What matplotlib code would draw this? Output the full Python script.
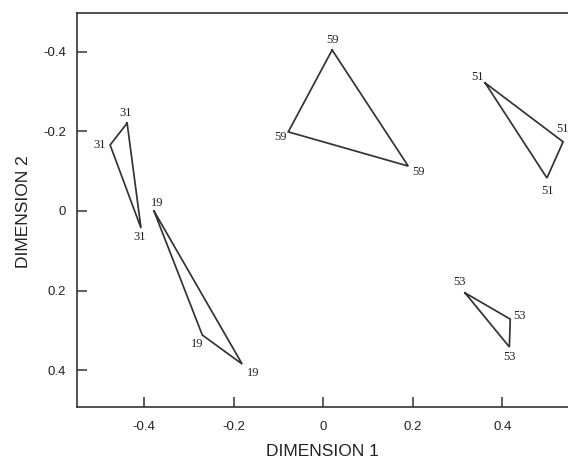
import matplotlib
matplotlib.use("Agg")
import matplotlib.pyplot as plt

# Data: triangle vertices (dimension 1, dimension 2) for each group
groups = ["31", "19", "59", "51", "53"]
dim1 = {
    "31": [-0.438, -0.476, -0.407],
    "19": [-0.378, -0.270, -0.181],
    "59": [0.020, -0.078, 0.190],
    "51": [0.362, 0.536, 0.500],
    "53": [0.317, 0.418, 0.416],
}
dim2 = {
    "31": [-0.221, -0.166, 0.043],
    "19": [0.000, 0.312, 0.385],
    "59": [-0.405, -0.199, -0.113],
    "51": [-0.322, -0.174, -0.083],
    "53": [0.206, 0.272, 0.342],
}
x_ticks = [-0.4, -0.2, 0, 0.2, 0.4]
x_ticklabels = ["-0.4", "-0.2", "0", "0.2", "0.4"]
y_ticks = [-0.4, -0.2, 0, 0.2, 0.4]
y_ticklabels = ["-0.4", "-0.2", "0", "0.2", "0.4"]
x_title = "DIMENSION 1"
y_title = "DIMENSION 2"

# label offsets in pixels (styling)
label_offsets = {
    "31": [(-2, 10), (-10, 0), (-1, -9)],
    "19": [(3, 8), (-5, -9), (11, -9)],
    "59": [(0, 10), (-8, -5), (10, -6)],
    "51": [(-8, 6), (-1, 13), (1, -13)],
    "53": [(-6, 11), (9, 3), (0, -10)],
}

col = "#333333"
tcol = "#222222"
fig = plt.figure(figsize=(5.68, 4.63), dpi=100)
ax = fig.add_axes([77/568, 56/463, 1 - 77/568, (407-13)/463])

for g in groups:
    xs = dim1[g] + [dim1[g][0]]
    ys = dim2[g] + [dim2[g][0]]
    ax.plot(xs, ys, color=col, lw=1.25, solid_joinstyle="miter")
    for (x, y), off in zip(zip(dim1[g], dim2[g]), label_offsets[g]):
        ax.annotate(g, (x, y), xytext=off, textcoords="offset pixels",
                    ha="center", va="center", fontsize=9,
                    family="Liberation Serif", color=tcol)

ax.set_xlim(-0.55, 0.547)
ax.set_ylim(0.493, -0.498)
ax.set_xticks(x_ticks)
ax.set_xticklabels(x_ticklabels)
ax.set_yticks(y_ticks)
ax.set_yticklabels(y_ticklabels)
ax.tick_params(direction="in", length=7, width=1.1, color=col,
               labelsize=9.5, labelcolor=tcol)
ax.tick_params(axis="x", pad=10)
ax.tick_params(axis="y", pad=8)
for lab in ax.get_xticklabels() + ax.get_yticklabels():
    lab.set_family("Liberation Sans")

for s in ["left", "bottom", "top"]:
    ax.spines[s].set_color(col)
    ax.spines[s].set_linewidth(1.2)
ax.spines["right"].set_visible(False)

fig.text(322/568, 1 - 451/463, x_title, ha="center", va="center",
         fontsize=12.5, family="Liberation Sans", color=tcol)
fig.text(24/568, 1 - 212/463, y_title, ha="center", va="center", rotation=90,
         fontsize=12.5, family="Liberation Sans", color=tcol)

fig.savefig("out.png", dpi=100)
